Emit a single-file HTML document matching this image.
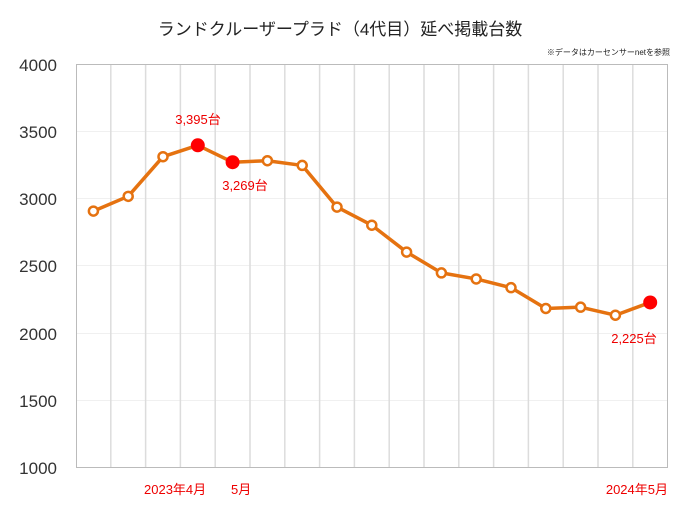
<!DOCTYPE html>
<html><head><meta charset="utf-8"><style>
body{margin:0;background:#fff;}
svg text{font-family:"Liberation Sans","Noto Sans CJK JP",sans-serif;}
</style></head><body>
<svg width="680" height="510" viewBox="0 0 680 510" xmlns="http://www.w3.org/2000/svg">
<text x="340" y="35" text-anchor="middle" font-size="17" fill="#222">ランドクルーザープラド（4代目）延べ掲載台数</text>
<text x="670" y="55" text-anchor="end" font-size="8" fill="#222">※データはカーセンサーnetを参照</text>
<g stroke="#e4e4e4" stroke-width="1">
<line x1="76" y1="131.5" x2="668" y2="131.5" stroke="#f0f0f0"/>
<line x1="76" y1="198.5" x2="668" y2="198.5" stroke="#f0f0f0"/>
<line x1="76" y1="265.5" x2="668" y2="265.5" stroke="#f0f0f0"/>
<line x1="76" y1="333.5" x2="668" y2="333.5" stroke="#f0f0f0"/>
<line x1="76" y1="400.5" x2="668" y2="400.5" stroke="#f0f0f0"/>
</g>
<g id="vg" stroke="#dcdcdc" stroke-width="1.5"></g>
<rect x="76.5" y="64.5" width="591" height="403" fill="none" stroke="#bbb" stroke-width="1"/>
<g font-size="17" fill="#333" text-anchor="end">
<text x="57" y="71">4000</text><text x="57" y="138">3500</text><text x="57" y="205">3000</text>
<text x="57" y="272">2500</text><text x="57" y="340">2000</text><text x="57" y="407">1500</text><text x="57" y="474">1000</text>
</g>
<g font-size="13" fill="#e00">
<text x="144" y="494">2023年4月</text><text x="231" y="494">5月</text><text x="668" y="494" text-anchor="end">2024年5月</text>
<text x="198" y="124" text-anchor="middle">3,395台</text>
<text x="245" y="190" text-anchor="middle">3,269台</text>
<text x="634" y="343" text-anchor="middle">2,225台</text>
</g>
<polyline id="ln" fill="none" stroke="#e57210" stroke-width="3.5" stroke-linejoin="round"/>
<g id="pts"></g>
</svg>
<script>
var v=[2905,3015,3310,3395,3269,3280,3245,2935,2800,2600,2445,2400,2335,2180,2190,2130,2225];
var ns="http://www.w3.org/2000/svg",p=[],g=document.getElementById('pts'),vg=document.getElementById('vg');
for(var k=1;k<17;k++){var l=document.createElementNS(ns,'line');var x=76+34.8*k;l.setAttribute('x1',x);l.setAttribute('x2',x);l.setAttribute('y1',64);l.setAttribute('y2',467);vg.appendChild(l);}
v.forEach(function(a,i){var x=93.4+34.8*i,y=467-(a-1000)*0.13433;p.push(x+','+y);
var c=document.createElementNS(ns,'circle');c.setAttribute('cx',x);c.setAttribute('cy',y);
if(i==3||i==4||i==16){c.setAttribute('r',7);c.setAttribute('fill','#f00');}
else{c.setAttribute('r',4.5);c.setAttribute('fill','#fff');c.setAttribute('stroke','#e57210');c.setAttribute('stroke-width','2.5');}
g.appendChild(c);});
document.getElementById('ln').setAttribute('points',p.join(' '));
</script>
</body></html>
